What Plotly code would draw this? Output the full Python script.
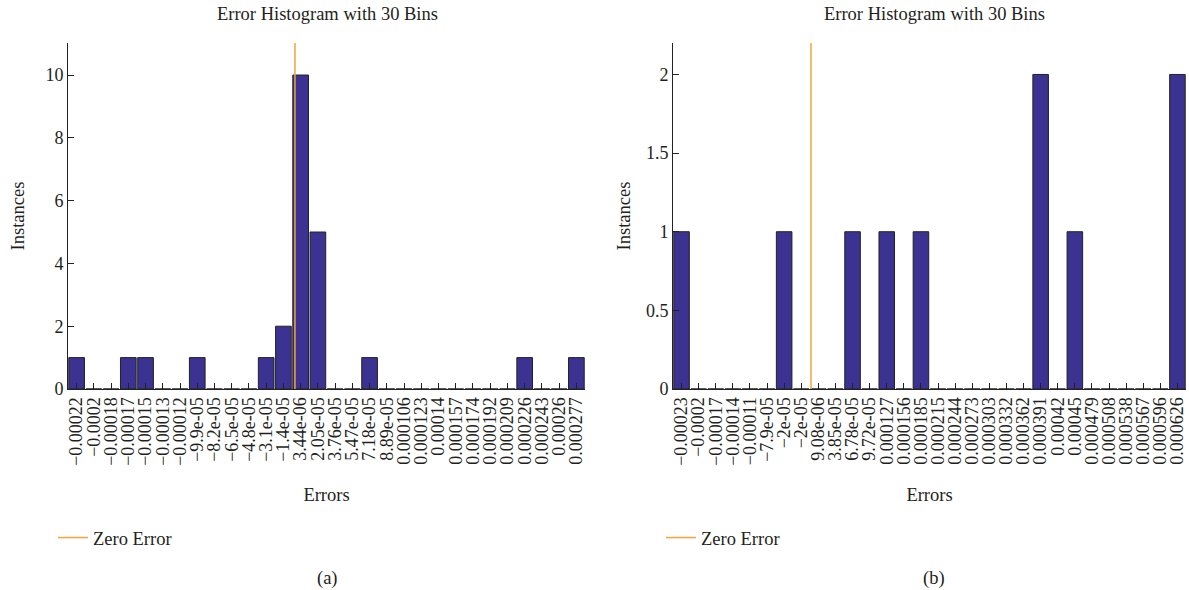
import plotly.graph_objects as go

# ---- data ----
labels_a = ["−0.00022", "−0.0002", "−0.00018", "−0.00017", "−0.00015", "−0.00013", "−0.00012",
            "−9.9e-05", "−8.2e-05", "−6.5e-05", "−4.8e-05", "−3.1e-05", "−1.4e-05", "3.44e-06",
            "2.05e-05", "3.76e-05", "5.47e-05", "7.18e-05", "8.89e-05", "0.000106", "0.000123",
            "0.00014", "0.000157", "0.000174", "0.000192", "0.000209", "0.000226", "0.000243",
            "0.00026", "0.000277"]
counts_a = [1, 0, 0, 1, 1, 0, 0, 1, 0, 0, 0, 1, 2, 10, 5, 0, 0, 1, 0, 0, 0, 0, 0, 0, 0, 0, 1, 0, 0, 1]

labels_b = ["−0.00023", "−0.0002", "−0.00017", "−0.00014", "−0.00011", "−7.9e-05", "−2e-05",
            "−2e-05", "9.08e-06", "3.85e-05", "6.78e-05", "9.72e-05", "0.000127", "0.000156",
            "0.000185", "0.000215", "0.000244", "0.000273", "0.000303", "0.000332", "0.000362",
            "0.000391", "0.00042", "0.00045", "0.000479", "0.000508", "0.000538", "0.000567",
            "0.000596", "0.000626"]
counts_b = [1, 0, 0, 0, 0, 0, 1, 0, 0, 0, 1, 0, 1, 0, 1, 0, 0, 0, 0, 0, 0, 2, 0, 1, 0, 0, 0, 0, 0, 2]

# position (in bin units) of the zero-error line
zero_a = 12.67
zero_b = 7.57

ymax_a = 11.02
ymax_b = 2.2

BAR = "#3B3291"
ORANGE = "#F0A43C"
FONT = "Liberation Serif"
TXT = "#231F20"

fig = go.Figure()

xa = list(range(len(labels_a)))
xb = list(range(len(labels_b)))

fig.add_trace(go.Bar(x=xa, y=counts_a, marker=dict(color=BAR, line=dict(color="#222222", width=1)),
                     showlegend=False, xaxis="x", yaxis="y"))
fig.add_trace(go.Scatter(x=[zero_a, zero_a], y=[0, ymax_a], mode="lines",
                         line=dict(color=ORANGE, width=1.5), name="Zero Error",
                         xaxis="x", yaxis="y", legend="legend"))
fig.add_trace(go.Bar(x=xb, y=counts_b, marker=dict(color=BAR, line=dict(color="#222222", width=1)),
                     showlegend=False, xaxis="x2", yaxis="y2"))
fig.add_trace(go.Scatter(x=[zero_b, zero_b], y=[0, ymax_b], mode="lines",
                         line=dict(color=ORANGE, width=1.5), name="Zero Error",
                         xaxis="x2", yaxis="y2", legend="legend2"))

ydom = [(590 - 389) / 590, (590 - 43) / 590]
xdom_a = [68 / 1189, 585 / 1189]
xdom_b = [673 / 1189, 1186 / 1189]

xcommon = dict(tickangle=-90, ticks="inside", ticklen=6, tickcolor="#222", showline=True,
               linecolor="#222", linewidth=1, showgrid=False, zeroline=False, automargin=False,
               ticklabeloverflow="allow",
               tickfont=dict(family=FONT, size=18, color=TXT),
               title=dict(text="Errors", font=dict(family=FONT, size=18.5, color=TXT), standoff=23))
ycommon = dict(ticks="inside", ticklen=6, tickcolor="#222", showline=True, linecolor="#222",
               linewidth=1, showgrid=False, zeroline=False, automargin=False,
               tickfont=dict(family=FONT, size=18, color=TXT))

fig.update_layout(
    width=1189, height=590,
    margin=dict(l=0, r=0, t=0, b=0),
    paper_bgcolor="white", plot_bgcolor="white",
    bargap=0.09,
    xaxis=dict(domain=xdom_a, range=[-0.5, 29.5], tickvals=xa, ticktext=labels_a, anchor="y", **xcommon),
    yaxis=dict(domain=ydom, range=[0, ymax_a], tickvals=[0, 2, 4, 6, 8, 10], anchor="x",
               title=dict(text="Instances", font=dict(family=FONT, size=18.5, color=TXT), standoff=15),
               **ycommon),
    xaxis2=dict(domain=xdom_b, range=[-0.5, 29.5], tickvals=xb, ticktext=labels_b, anchor="y2", **xcommon),
    yaxis2=dict(domain=ydom, range=[0, ymax_b], tickvals=[0, 0.5, 1, 1.5, 2], anchor="x2",
                title=dict(text="Instances", font=dict(family=FONT, size=18.5, color=TXT), standoff=10),
                **ycommon),
    legend=dict(x=53 / 1189, y=(590 - 538) / 590, xanchor="left", yanchor="middle",
                font=dict(family=FONT, size=18.5, color=TXT), bgcolor="rgba(0,0,0,0)"),
    legend2=dict(x=661 / 1189, y=(590 - 538) / 590, xanchor="left", yanchor="middle",
                 font=dict(family=FONT, size=18.5, color=TXT), bgcolor="rgba(0,0,0,0)"),
    annotations=[
        dict(text="Error Histogram with 30 Bins", x=327 / 1189, y=1 - 14 / 590, xref="paper", yref="paper",
             xanchor="center", yanchor="middle", showarrow=False, font=dict(family=FONT, size=18.5, color=TXT)),
        dict(text="Error Histogram with 30 Bins", x=934 / 1189, y=1 - 14 / 590, xref="paper", yref="paper",
             xanchor="center", yanchor="middle", showarrow=False, font=dict(family=FONT, size=18.5, color=TXT)),
        dict(text="(a)", x=327 / 1189, y=1 - 578 / 590, xref="paper", yref="paper",
             xanchor="center", yanchor="middle", showarrow=False, font=dict(family=FONT, size=18.5, color=TXT)),
        dict(text="(b)", x=934 / 1189, y=1 - 578 / 590, xref="paper", yref="paper",
             xanchor="center", yanchor="middle", showarrow=False, font=dict(family=FONT, size=18.5, color=TXT)),
    ],
)

fig.write_html("out.html", config={"displayModeBar": False},
               post_script="document.body.style.margin='0px';")
